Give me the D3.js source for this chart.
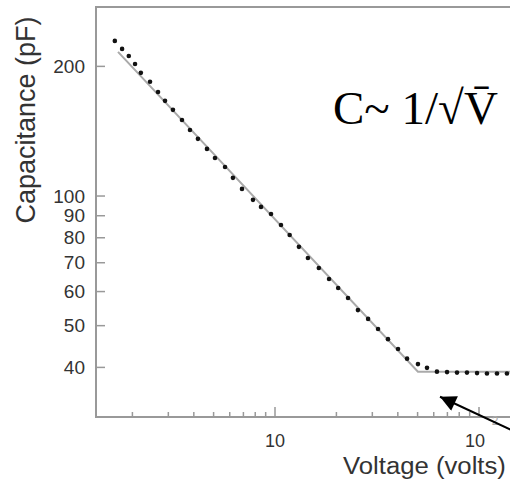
<!DOCTYPE html>
<html><head><meta charset="utf-8">
<script src="https://cdn.jsdelivr.net/npm/d3@7"></script>
<style>html,body{margin:0;padding:0;background:#fff;overflow:hidden}</style>
</head><body>
<script>
// Measured points (Voltage, Capacitance)
const voltage = [1.64,1.78,1.92,2.06,2.20,2.44,2.67,2.89,3.16,3.50,3.83,4.19,4.64,5.08,5.69,6.22,6.89,7.80,8.54,9.56,10.7,11.8,13.1,14.5,16.4,18.4,20.4,22.8,25.5,28.6,32.0,35.8,40.1,44.4,50.2,55.6,62.2,69.7,78.0,87.3,97.8,109.4,122.5,137.1];
const capacitance = [228.6,219,210.9,202.1,192.7,183.7,174.0,165.9,158.1,149.8,142.0,135.4,128.3,122.2,116.5,109.9,103.6,97.7,94.1,90.6,85.4,81.0,76.0,71.6,67.9,64.0,61.0,57.8,54.2,51.7,49.0,46.4,44.0,41.8,40.6,39.8,39.0,38.9,38.8,38.8,38.7,38.6,38.6,38.6];
// Fit line (C ~ 1/sqrt(V), then saturation)
const fitV = [1.70, 50.2, 300];
const fitC = [215.6, 39.0, 39.0];
const xTicks = [2,3,4,5,6,7,8,9,10,20,30,40,50,60,70,80,90,100,200];
const xMajor = [10,100];
const yTicks = [40,50,60,70,80,90,100,200];

(function(){
const W = 510, H = 481;
const svg = d3.select("body").append("svg").attr("width", W).attr("height", H);

const mLeft = 96, mTop = 7, mBottom = 417;
const x = d3.scaleLog().domain([1.326, 160]).range([mLeft, 96 + 204 * Math.log10(160/1.326)]);
const y = d3.scaleLog().domain([30.6, 274]).range([mBottom, mTop]);

const axisCol = "#999";
const textCol = "#333";
const sans = "Liberation Sans, Arial, sans-serif";

// frame
svg.append("line").attr("x1", mLeft).attr("x2", mLeft).attr("y1", mTop).attr("y2", mBottom).attr("stroke", axisCol).attr("stroke-width", 2);
svg.append("line").attr("x1", mLeft - 1).attr("x2", W + 5).attr("y1", mBottom).attr("y2", mBottom).attr("stroke", axisCol).attr("stroke-width", 2);
svg.append("line").attr("x1", mLeft - 1).attr("x2", W + 5).attr("y1", mTop).attr("y2", mTop).attr("stroke", axisCol).attr("stroke-width", 2);

// x axis ticks (inward)
const gx = svg.append("g").attr("transform", `translate(0,${mBottom})`);
gx.selectAll("line.t").data(xTicks).join("line")
  .attr("x1", d => x(d)).attr("x2", d => x(d))
  .attr("y1", 0).attr("y2", d => xMajor.includes(d) ? -10 : -5)
  .attr("stroke", axisCol).attr("stroke-width", 1.5);
gx.append("text").attr("x", x(10)).attr("y", 30).attr("text-anchor", "middle")
  .attr("font-family", sans).attr("font-size", 18).attr("fill", textCol).text("10");
gx.append("text").attr("x", x(100) - 4).attr("y", 30).attr("text-anchor", "middle")
  .attr("font-family", sans).attr("font-size", 18).attr("fill", textCol).text("10");
gx.append("text").attr("x", x(100) + 16).attr("y", 8).attr("text-anchor", "middle")
  .attr("font-family", sans).attr("font-size", 12).attr("fill", "#aaa").text("2");

// y axis
const yAxis = d3.axisLeft(y).tickValues(yTicks).tickSize(-9).tickPadding(20).tickFormat(d3.format("d"));
const gy = svg.append("g").attr("transform", `translate(${mLeft},0)`).call(yAxis);
gy.select(".domain").remove();
gy.selectAll(".tick line").attr("stroke", axisCol).attr("stroke-width", 1.5);
gy.selectAll(".tick text").attr("font-family", sans)
  .attr("font-size", 19).attr("fill", textCol).attr("x", -11).attr("dy", "0.35em");

// fit line
const line = d3.line().x(d => x(d[0])).y(d => y(d[1]));
svg.append("path").datum(fitV.map((v, i) => [v, fitC[i]]))
  .attr("d", line).attr("fill", "none").attr("stroke", "#aaa").attr("stroke-width", 2);

// points
svg.append("g").selectAll("circle").data(voltage.map((v, i) => [v, capacitance[i]])).join("circle")
  .attr("cx", d => x(d[0])).attr("cy", d => y(d[1])).attr("r", 2.3).attr("fill", "#111");

// axis titles
svg.append("text").attr("transform", "translate(35,120) rotate(-90)").attr("text-anchor", "middle")
  .attr("font-family", sans).attr("font-size", 27).attr("fill", textCol)
  .text("Capacitance (pF)");
svg.append("text").attr("transform", "translate(343,474) scale(1.05,1)")
  .attr("font-family", sans).attr("font-size", 24.5).attr("fill", textCol)
  .text("Voltage (volts)");

// annotation
svg.append("text").attr("x", 333).attr("y", 124)
  .attr("font-family", "Liberation Serif, Times New Roman, serif").attr("font-size", 47).attr("fill", "#000")
  .text("C~ 1/√V̄");

// arrow
const defs = svg.append("defs");
defs.append("marker").attr("id", "ah").attr("viewBox", "0 0 10 10").attr("refX", 10).attr("refY", 5)
  .attr("markerUnits", "userSpaceOnUse").attr("orient", "auto")
  .attr("markerWidth", 22).attr("markerHeight", 16)
  .append("path").attr("d", "M0,0 L10,5 L0,10 Z").attr("fill", "#000");
svg.append("line").attr("x1", x(150)).attr("y1", y(28.3)).attr("x2", x(64.4)).attr("y2", y(34.1))
  .attr("stroke", "#000").attr("stroke-width", 2).attr("marker-end", "url(#ah)");
})();
</script>
</body></html>
